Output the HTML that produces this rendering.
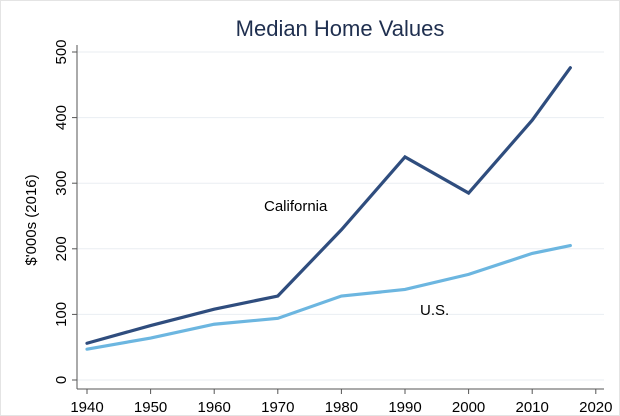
<!DOCTYPE html>
<html><head><meta charset="utf-8"><style>
body{margin:0;background:#fff;}
svg{display:block;font-family:"Liberation Sans",Arial,sans-serif;}
</style></head><body>
<svg id="chart" width="620" height="416">
<rect x="0.5" y="0.5" width="619" height="415" fill="#fff" stroke="#e4e4e4"/>
<text x="340" y="36" text-anchor="middle" font-size="22" fill="#1f2f4f">Median Home Values</text>
<text transform="translate(36,220) rotate(-90)" text-anchor="middle" font-size="15" fill="#000">$'000s (2016)</text>
<g id="grid"></g><g id="axes"></g><g id="series"></g>
<text x="264" y="211" font-size="15" fill="#000">California</text>
<text x="420" y="315" font-size="15" fill="#000">U.S.</text>
</svg>
<script>
const years=[1940,1950,1960,1970,1980,1990,2000,2010,2016];
const california=[56,83,108,128,229,340,285,396,476];
const us=[47,64,85,94,128,138,161,193,205];
const xTicks=[1940,1950,1960,1970,1980,1990,2000,2010,2020];
const yTicks=[0,100,200,300,400,500];
const NS='http://www.w3.org/2000/svg';
const X=v=>87+(v-1940)*6.36;
const Y=v=>380-v*0.656;
function mk(t,a,p){const e=document.createElementNS(NS,t);for(const k in a)e.setAttribute(k,a[k]);p.appendChild(e);return e;}
const grid=document.getElementById('grid'),axes=document.getElementById('axes'),ser=document.getElementById('series');
yTicks.forEach(v=>{
 const g=mk('line',{x1:77,x2:604,y1:Y(v),y2:Y(v),stroke:'#eaeef2','stroke-width':1},grid);
 
 
 const t=mk('line',{x1:72,x2:77,y1:Y(v),y2:Y(v),stroke:'#555','stroke-width':1},axes);
 
 
 const l=mk('text',{transform:`translate(66,${Y(v)}) rotate(-90)`,'text-anchor':'middle','font-size':15},axes);
 l.textContent=v;
 
 
});
xTicks.forEach(v=>{
 const t=mk('line',{x1:X(v),x2:X(v),y1:389,y2:394,stroke:'#555','stroke-width':1},axes);
 
 
 const l=mk('text',{x:X(v),y:412,'text-anchor':'middle','font-size':15},axes);
 l.textContent=v;
 
 
});
const ya=mk('line',{x1:77,x2:77,y1:45,y2:389,stroke:'#555','stroke-width':1},axes);


const xa=mk('line',{x1:77,x2:604,y1:389,y2:389,stroke:'#555','stroke-width':1},axes);


function line(vals,color,name){
 const p=mk('polyline',{points:years.map((y,i)=>X(y)+','+Y(vals[i])).join(' '),fill:'none',stroke:color,'stroke-width':3.2,'stroke-linecap':'round','stroke-linejoin':'miter'},ser);
 
 
}
line(us,'#6cb6e0','us-line');
line(california,'#2f4d7e','california-line');
</script>
</body></html>
